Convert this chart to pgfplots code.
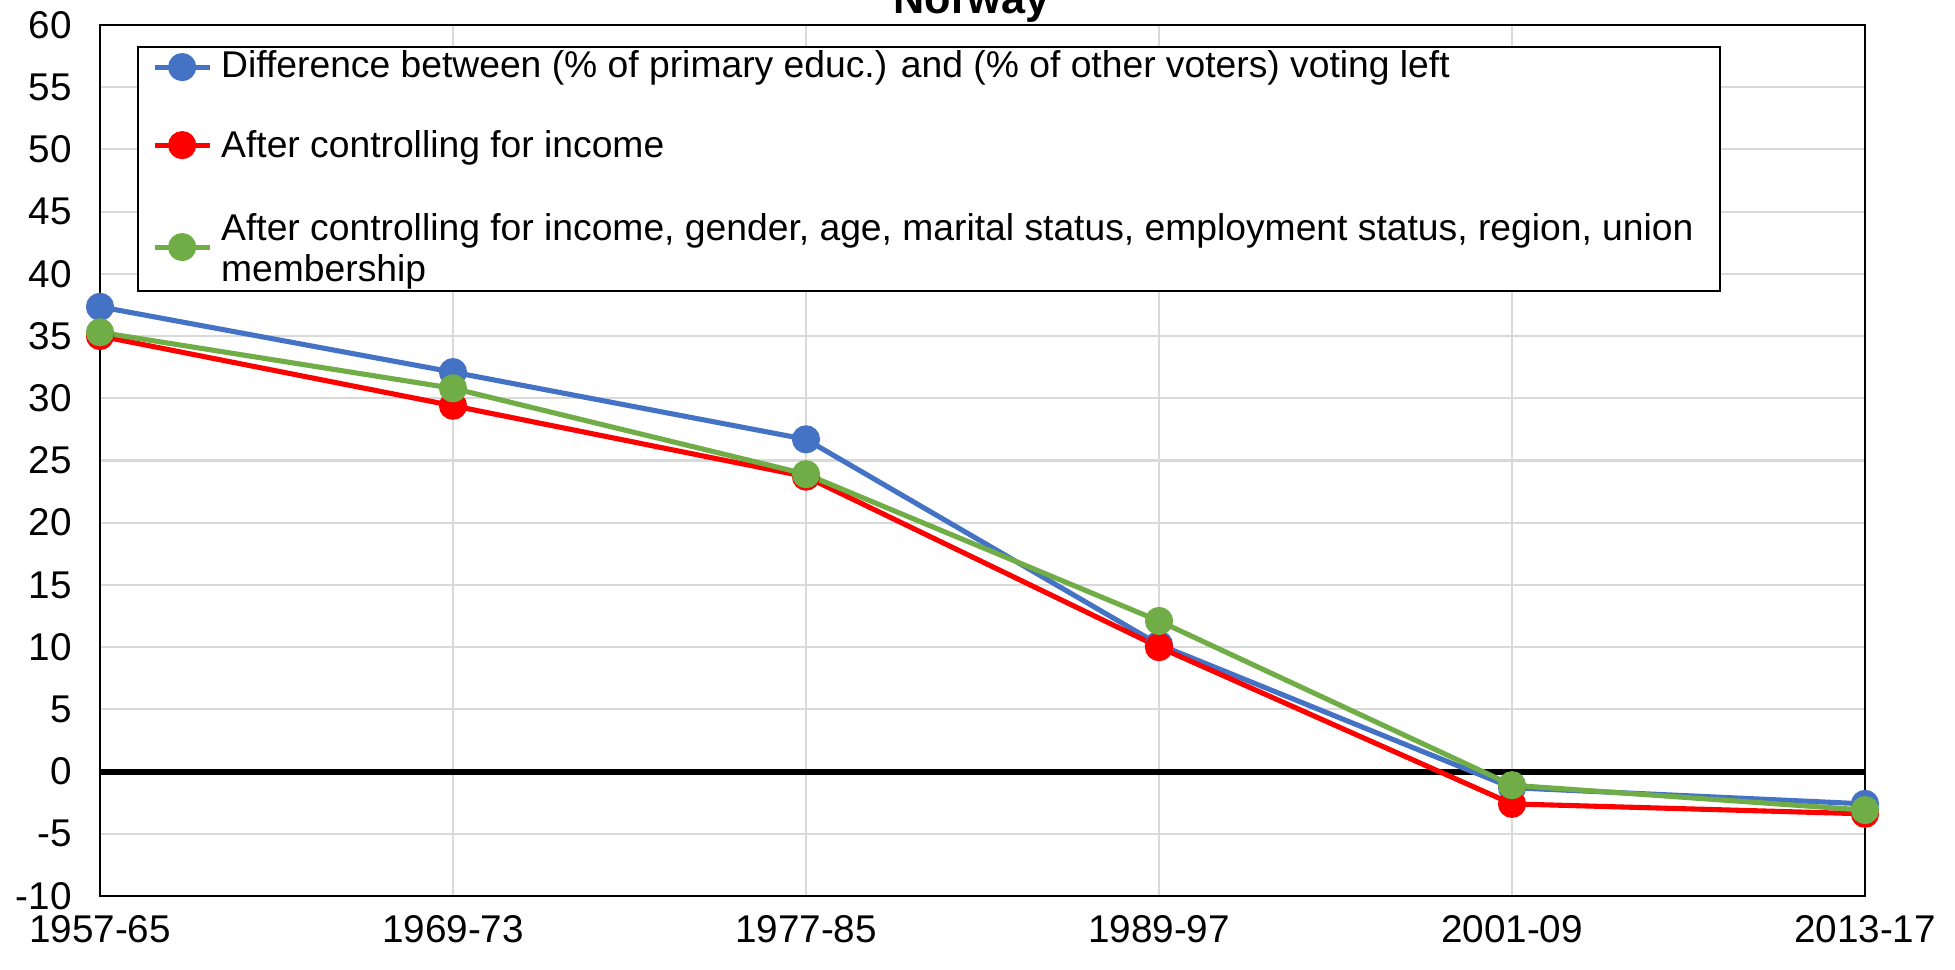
\documentclass[border=0pt]{standalone}
\usepackage{fontspec}
\setmainfont{Liberation Sans}
\usepackage{pgfplots}
\pgfplotsset{compat=1.18}
\usetikzlibrary{calc}
\definecolor{sblue}{HTML}{4472C4}
\definecolor{sred}{HTML}{FF0000}
\definecolor{sgreen}{HTML}{70AD47}
\definecolor{gridgray}{HTML}{D9D9D9}

\begin{document}
\begin{tikzpicture}
\begin{axis}[
    name=ax,
    scale only axis,
    width=176.5mm, height=87.1mm,
    xmin=0, xmax=5,
    ymin=-10, ymax=60,
    xtick={0,1,2,3,4,5},
    xticklabels={1957-65,1969-73,1977-85,1989-97,2001-09,2013-17},
    ytick={-10,-5,...,60},
    major tick length=0pt,
    grid=major,
    grid style={draw=gridgray, line width=0.6pt},
    axis line style={draw=black, line width=0.6pt},
    tick label style={font=\fontsize{11}{12}\selectfont},
    /pgf/number format/assume math mode=true,
    yticklabel style={xshift=-4.5pt},
    xticklabel style={yshift=-2pt},
    every axis plot/.append style={line width=1.45pt, mark=*, mark size=1.15mm},
    legend cell align=left,
    legend style={
        at={(0.021,0.976)}, anchor=north west,
        draw=black, line width=0.6pt,
        font=\fontsize{10.6}{11.7}\selectfont,
        cells={align=left},
        nodes={inner xsep=1.2mm, inner ysep=0.3mm},
        row sep=3.78mm,
        inner xsep=1.4mm, inner ysep=0.1mm,
        /tikz/every odd column/.append style={column sep=-0.3mm},
    },
    legend image code/.code={
        \draw[#1, mark repeat=2, mark phase=2] plot coordinates {(0mm,0mm) (2.75mm,0mm) (5.5mm,0mm)};
    },
]
\draw[black, line width=1.7pt] (axis cs:0,0) -- (axis cs:5,0);
\addplot[color=sblue, mark options={fill=sblue, draw=sblue}] coordinates {
    (0,37.35) (1,32.1) (2,26.7) (3,10.2) (4,-1.3) (5,-2.6)
};
\addplot[color=sred, mark options={fill=sred, draw=sred}] coordinates {
    (0,35.0) (1,29.4) (2,23.7) (3,10.0) (4,-2.6) (5,-3.4)
};
\addplot[color=sgreen, mark options={fill=sgreen, draw=sgreen}] coordinates {
    (0,35.3) (1,30.8) (2,23.9) (3,12.1) (4,-1.1) (5,-3.1)
};
\legend{Difference between (\% of primary educ.) and (\% of other voters) voting left,
        \rule{0pt}{8.8pt}After controlling for income,
        {\rule{0pt}{9.6pt}After controlling for income, gender, age, marital status, employment status, region, union\\membership}}
\end{axis}
\node[anchor=base, font=\fontsize{12.3}{14}\selectfont\bfseries] at ($(ax.north)+(-1.1mm,1.15mm)$) {Norway};
\pgfresetboundingbox
\path ($(ax.south west)+(-10mm,-7.4mm)$) rectangle ($(ax.north east)+(9mm,2.5mm)$);
\end{tikzpicture}
\end{document}
